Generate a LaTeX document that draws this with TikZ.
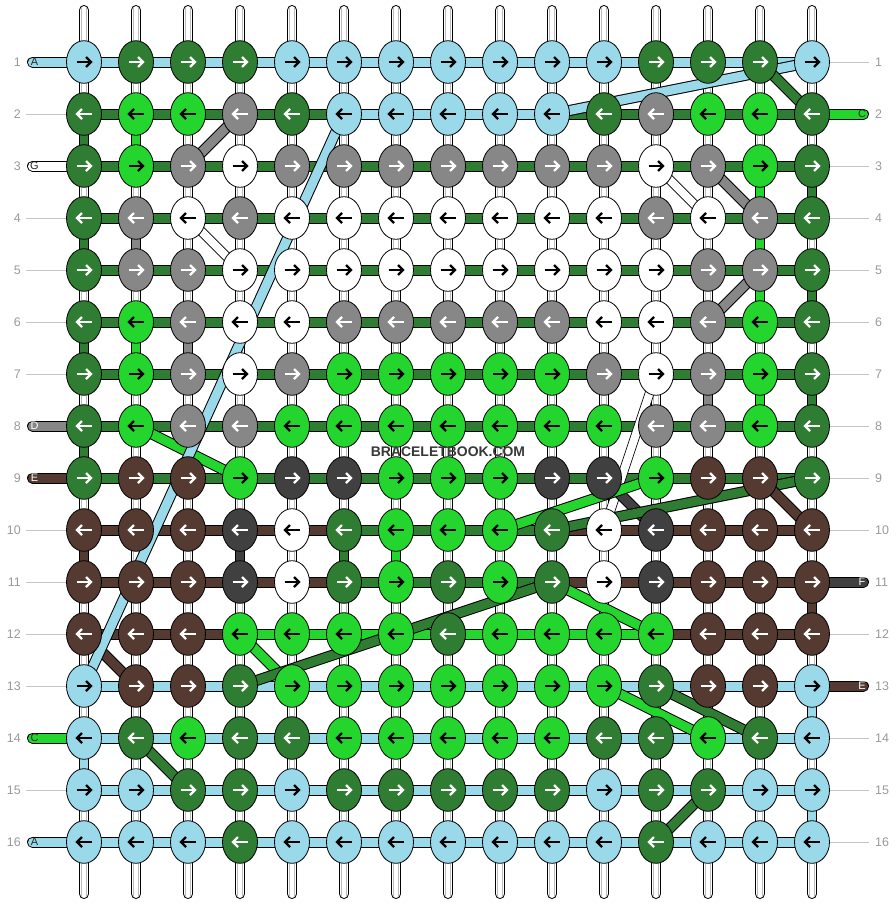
\documentclass[tikz,border=0pt]{standalone}
\usepackage{fontspec}
\setmainfont{Liberation Sans}
\usetikzlibrary{shapes.geometric}
\definecolor{cL}{HTML}{99D9EA}
\definecolor{cD}{HTML}{2E7D32}
\definecolor{cB}{HTML}{24D52D}
\definecolor{cG}{HTML}{878787}
\definecolor{cK}{HTML}{404040}
\definecolor{cR}{HTML}{553A31}
\definecolor{cW}{HTML}{FFFFFF}
\colorlet{tL}{black}\colorlet{tD}{white}\colorlet{tB}{black}\colorlet{tG}{white}
\colorlet{tK}{white}\colorlet{tR}{white}\colorlet{tW}{black}
\definecolor{numgray}{HTML}{9A9A9A}
\definecolor{linegray}{HTML}{C4C4C4}
\definecolor{stripe}{HTML}{BBBBBB}
\pgfdeclarelayer{back}
\pgfdeclarelayer{mid}
\pgfsetlayers{back,mid,main}
\begin{document}
\begin{tikzpicture}[x=1bp,y=-1bp,
  knot/.style={ellipse, draw=black, line width=0.8bp, minimum width=35bp, minimum height=42.6bp, inner sep=0pt},
  knotarrow/.style={path picture={
     \coordinate (pc) at (path picture bounding box.center);
     \draw[draw=t#1, line width=2.4bp] (pc) ++({-7.5*\dd},0) -- ++({14*\dd},0);
     \draw[draw=t#1, line width=2.4bp, line join=miter] (pc) ++({2*\dd},-5) -- ++({5*\dd},5) -- ++({-5*\dd},5);
  }},
  band/.style={draw=black, line width=1bp, double=#1, double distance=9bp},
  vband/.style={draw=black, line width=1bp, double=#1, double distance=8.5bp},
  thinband/.style={draw=black, line width=0.8bp, double=white, double distance=8bp},
  strand/.style={draw=black, line width=1bp, double=white, double distance=8.5bp, line cap=round},
  stripeline/.style={draw=stripe, line width=0.8bp},
  numline/.style={draw=linegray, line width=1bp},
  numl/.style={anchor=east, inner sep=0pt, text=numgray, font=\fontsize{12.5}{13}\selectfont},
  numr/.style={anchor=west, inner sep=0pt, text=numgray, font=\fontsize{12.5}{13}\selectfont},
  pilltext/.style={inner sep=0pt, font=\fontsize{11}{11}\selectfont},
  wmark/.style={inner sep=0pt, text=black!78, font=\bfseries\fontsize{14}{14}\selectfont}
]
\useasboundingbox (0,0) rectangle (896,904);
\begin{pgfonlayer}{back}
\fill[white] (0,0) rectangle (896,904);
\end{pgfonlayer}

% ---------- knots ----------
\foreach \r/\cols in {
 1/{L,D,D,D,L,L,L,L,L,L,L,D,D,D,L},
 2/{D,B,B,G,D,L,L,L,L,L,D,G,B,B,D},
 3/{D,B,G,W,G,G,G,G,G,G,G,W,G,B,D},
 4/{D,G,W,G,W,W,W,W,W,W,W,G,W,G,D},
 5/{D,G,G,W,W,W,W,W,W,W,W,W,G,G,D},
 6/{D,B,G,W,W,G,G,G,G,G,W,W,G,B,D},
 7/{D,B,G,W,G,B,B,B,B,B,G,W,G,B,D},
 8/{D,B,G,G,B,B,B,B,B,B,B,G,G,B,D},
 9/{D,R,R,B,K,K,B,B,B,K,K,B,R,R,D},
 10/{R,R,R,K,W,D,B,B,B,D,W,K,R,R,R},
 11/{R,R,R,K,W,D,B,D,B,D,W,K,R,R,R},
 12/{R,R,R,B,B,B,B,D,B,B,B,B,R,R,R},
 13/{L,R,R,D,B,B,B,B,B,B,B,D,R,R,L},
 14/{L,D,B,D,D,B,B,B,B,B,D,D,B,D,L},
 15/{L,L,D,D,L,D,D,D,D,D,L,D,D,L,L},
 16/{L,L,L,D,L,L,L,L,L,L,L,D,L,L,L}}{
  \foreach \c [count=\i] in \cols {
    \pgfmathsetmacro\xx{84+52*(\i-1)}
    \pgfmathsetmacro\yy{62+52*(\r-1)}
    \ifodd\r \def\dd{1}\else\def\dd{-1}\fi
    \node[knot, fill=c\c, knotarrow=\c] (k\i-\r) at (\xx,\yy) {};
  }
}

% ---------- strands and number lines ----------
\begin{pgfonlayer}{back}
\foreach \i in {1,...,15} {
  \pgfmathsetmacro\xx{84+52*(\i-1)}
  \coordinate (st\i) at (\xx,10.25);
  \coordinate (sb\i) at (\xx,893.75);
  \draw[strand] (st\i) -- (sb\i);
  \draw[stripeline] ([xshift=-2.3bp,yshift=3bp]st\i) -- ([xshift=-2.3bp,yshift=-3bp]sb\i);
  \draw[stripeline] ([xshift=2.3bp,yshift=3bp]st\i) -- ([xshift=2.3bp,yshift=-3bp]sb\i);
}
\end{pgfonlayer}

\foreach \r in {1,...,16} {
  \pgfmathsetmacro\yy{62+52*(\r-1)}
  \node[numl] (nl\r) at (21,\yy) {\r};
  \node[numr] (nr\r) at (875,\yy) {\r};
}
\begin{pgfonlayer}{back}
\foreach \r in {2,4,5,6,7,10,11,12,13,15}
  \draw[numline] ([xshift=5bp]nl\r.east) -- (k1-\r.center);
\foreach \r in {1,3,4,5,6,7,8,9,10,12,14,15,16}
  \draw[numline] (k15-\r.center) -- ([xshift=-6bp]nr\r.west);
\end{pgfonlayer}

\begin{pgfonlayer}{mid}
% ---------- horizontal bars ----------
\foreach \r/\cols in {
 1/{L,L,L,L,L,L,L,L,L,L,L,L,L,L},
 2/{D,D,D,D,D,L,L,L,L,D,D,D,D,D},
 3/{D,D,D,D,D,D,D,D,D,D,D,D,D,D},
 4/{D,D,D,D,D,D,D,D,D,D,D,D,D,D},
 5/{D,D,D,D,D,D,D,D,D,D,D,D,D,D},
 6/{D,D,D,D,D,D,D,D,D,D,D,D,D,D},
 7/{D,D,D,D,D,D,D,D,D,D,D,D,D,D},
 8/{D,D,D,D,D,D,D,D,D,D,D,D,D,D},
 9/{D,D,D,D,D,D,D,D,D,D,D,D,D,D},
 10/{R,R,R,R,R,D,D,D,D,R,R,R,R,R},
 11/{R,R,R,R,R,D,D,D,D,R,R,R,R,R},
 12/{R,R,R,B,B,B,B,B,B,B,B,R,R,R},
 13/{L,L,L,L,L,L,L,L,L,L,L,L,L,L},
 14/{L,L,L,L,L,L,L,L,L,L,L,L,L,L},
 15/{L,L,L,L,L,L,L,L,L,L,L,L,L,L},
 16/{L,L,L,L,L,L,L,L,L,L,L,L,L,L}}{
  \foreach \c [count=\i] in \cols {
    \pgfmathtruncatemacro\j{\i+1}
    \draw[band=c\c] (k\i-\r.center) -- (k\j-\r.center);
  }
}
% ---------- vertical coloured segments ----------
\foreach \col/\r/\c in {1/2/D,2/2/B,14/3/B,15/3/D,1/4/D,2/4/G,14/4/B,14/5/B,15/5/D,
  1/6/D,2/6/B,3/6/G,13/7/G,14/7/B,15/7/D,1/8/D,1/10/R,4/10/K,6/10/D,7/10/B,
  15/11/R,15/13/L,1/14/L,15/15/L} {
  \pgfmathtruncatemacro\rr{\r+1}
  \draw[vband=c\c] (k\col-\r.center) -- (k\col-\rr.center);
}
% ---------- end pills ----------
\foreach \r/\c in {1/L,3/W,8/G,9/R,14/B,16/L} {
  \pgfmathsetmacro\yy{62+52*(\r-1)}
  \coordinate (pl\r) at (32.5,\yy);
  \draw[band=c\c, line cap=round] (pl\r) -- (k1-\r.center);
}
\foreach \r/\c in {2/B,11/K,13/R} {
  \pgfmathsetmacro\yy{62+52*(\r-1)}
  \coordinate (pr\r) at (863.5,\yy);
  \draw[band=c\c, line cap=round] (k15-\r.center) -- (pr\r);
}
% ---------- white crossing strands ----------
\draw[thinband] (k12-3.center) -- (k13-4.center);
\draw[thinband] (k3-4.center) -- (k4-5.center);
\draw[thinband] (k12-7.center) -- (k11-10.center);
% ---------- diagonal strings ----------
\foreach \c/\a/\ra/\b/\rb in {L/15/1/10/2, D/14/1/15/2, G/4/2/3/3, G/13/3/14/4,
  G/14/5/13/6, B/2/8/4/9, K/11/9/12/10, B/12/9/9/10, D/15/9/10/10, R/14/9/15/10,
  B/10/11/12/12, R/1/12/2/13, B/4/12/5/13, D/10/11/4/13, B/11/13/13/14,
  D/12/13/14/14, D/2/14/3/15, D/13/15/12/16, L/6/2/1/13} {
  \draw[band=c\c] (k\a-\ra.center) -- (k\b-\rb.center);
}
\end{pgfonlayer}

% ---------- pill letters ----------
\node[pilltext, text=black!85] (la1) at (34.5,62) {A};
\node[pilltext, text=black!85] (la3) at (34.5,166) {G};
\node[pilltext, text=white] (la8) at (34.5,426) {D};
\node[pilltext, text=white] (la9) at (34.5,478) {E};
\node[pilltext, text=black!85] (la14) at (34.5,738) {C};
\node[pilltext, text=black!85] (la16) at (34.5,842) {A};
\node[pilltext, text=black!85] (ra2) at (862,114) {C};
\node[pilltext, text=white] (ra11) at (862,582) {F};
\node[pilltext, text=white] (ra13) at (862,686) {E};

\node[wmark] (wm) at (448,452) {BRACELETBOOK.COM};
\end{tikzpicture}
\end{document}
